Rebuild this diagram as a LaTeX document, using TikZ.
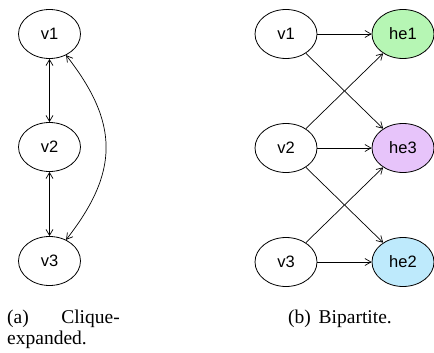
\documentclass[tikz,border=0pt]{standalone}
\usepackage{fontspec}
\setmainfont{Liberation Serif}
\newfontfamily\vertexfont{Liberation Sans}
\usetikzlibrary{arrows.meta,shapes.geometric}

\definecolor{heGreen}{RGB}{182,246,180}
\definecolor{hePurple}{RGB}{231,196,250}
\definecolor{heBlue}{RGB}{190,234,252}

\begin{document}
\begin{tikzpicture}[x=1pt,y=1pt,
  vert/.style={ellipse, draw, line width=0.8pt, minimum width=62pt,
    minimum height=49pt, inner sep=0pt,
    font=\vertexfont\fontsize{16.5}{18}\selectfont},
  tip/.tip={Straight Barb[length=6pt,width=7pt]},
  arc/.style={line width=0.7pt, -tip},
  biarc/.style={line width=0.7pt, tip-tip},
  caption/.style={inner sep=0pt, font=\fontsize{19.5}{21}\selectfont}]
  \useasboundingbox (0,0) rectangle (434,-353);

  % (a) clique-expanded graph
  \node[vert] (a1) at (49.5,-34)  {v1};
  \node[vert] (a2) at (49.5,-147) {v2};
  \node[vert] (a3) at (49.5,-261) {v3};
  \draw[biarc] (a1) -- (a2);
  \draw[biarc] (a2) -- (a3);
  \draw[biarc] (a1) to[out=-52,in=52,looseness=1.2] (a3);

  % (b) bipartite graph
  \node[vert] (b1) at (286,-34)  {v1};
  \node[vert] (b2) at (286,-148) {v2};
  \node[vert] (b3) at (286,-262) {v3};
  \node[vert, fill=heGreen]  (h1) at (403,-34)  {he1};
  \node[vert, fill=hePurple] (h3) at (403,-148) {he3};
  \node[vert, fill=heBlue]   (h2) at (403,-262) {he2};
  \draw[arc] (b1) -- (h1);
  \draw[arc] (b1) -- (h3);
  \draw[arc] (b2) -- (h1);
  \draw[arc] (b2) -- (h3);
  \draw[arc] (b2) -- (h2);
  \draw[arc] (b3) -- (h3);
  \draw[arc] (b3) -- (h2);

  % sub-captions
  \node[caption, anchor=base west] (capa1) at (7,-323)   {(a)};
  \node[caption, anchor=base east] (capa2) at (120,-323) {Clique-};
  \node[caption, anchor=base west] (capa3) at (7,-344)   {expanded.};
  \node[caption, anchor=base west] (capb)  at (288,-323) {(b)\hspace{0.4em}Bipartite.};
\end{tikzpicture}
\end{document}
